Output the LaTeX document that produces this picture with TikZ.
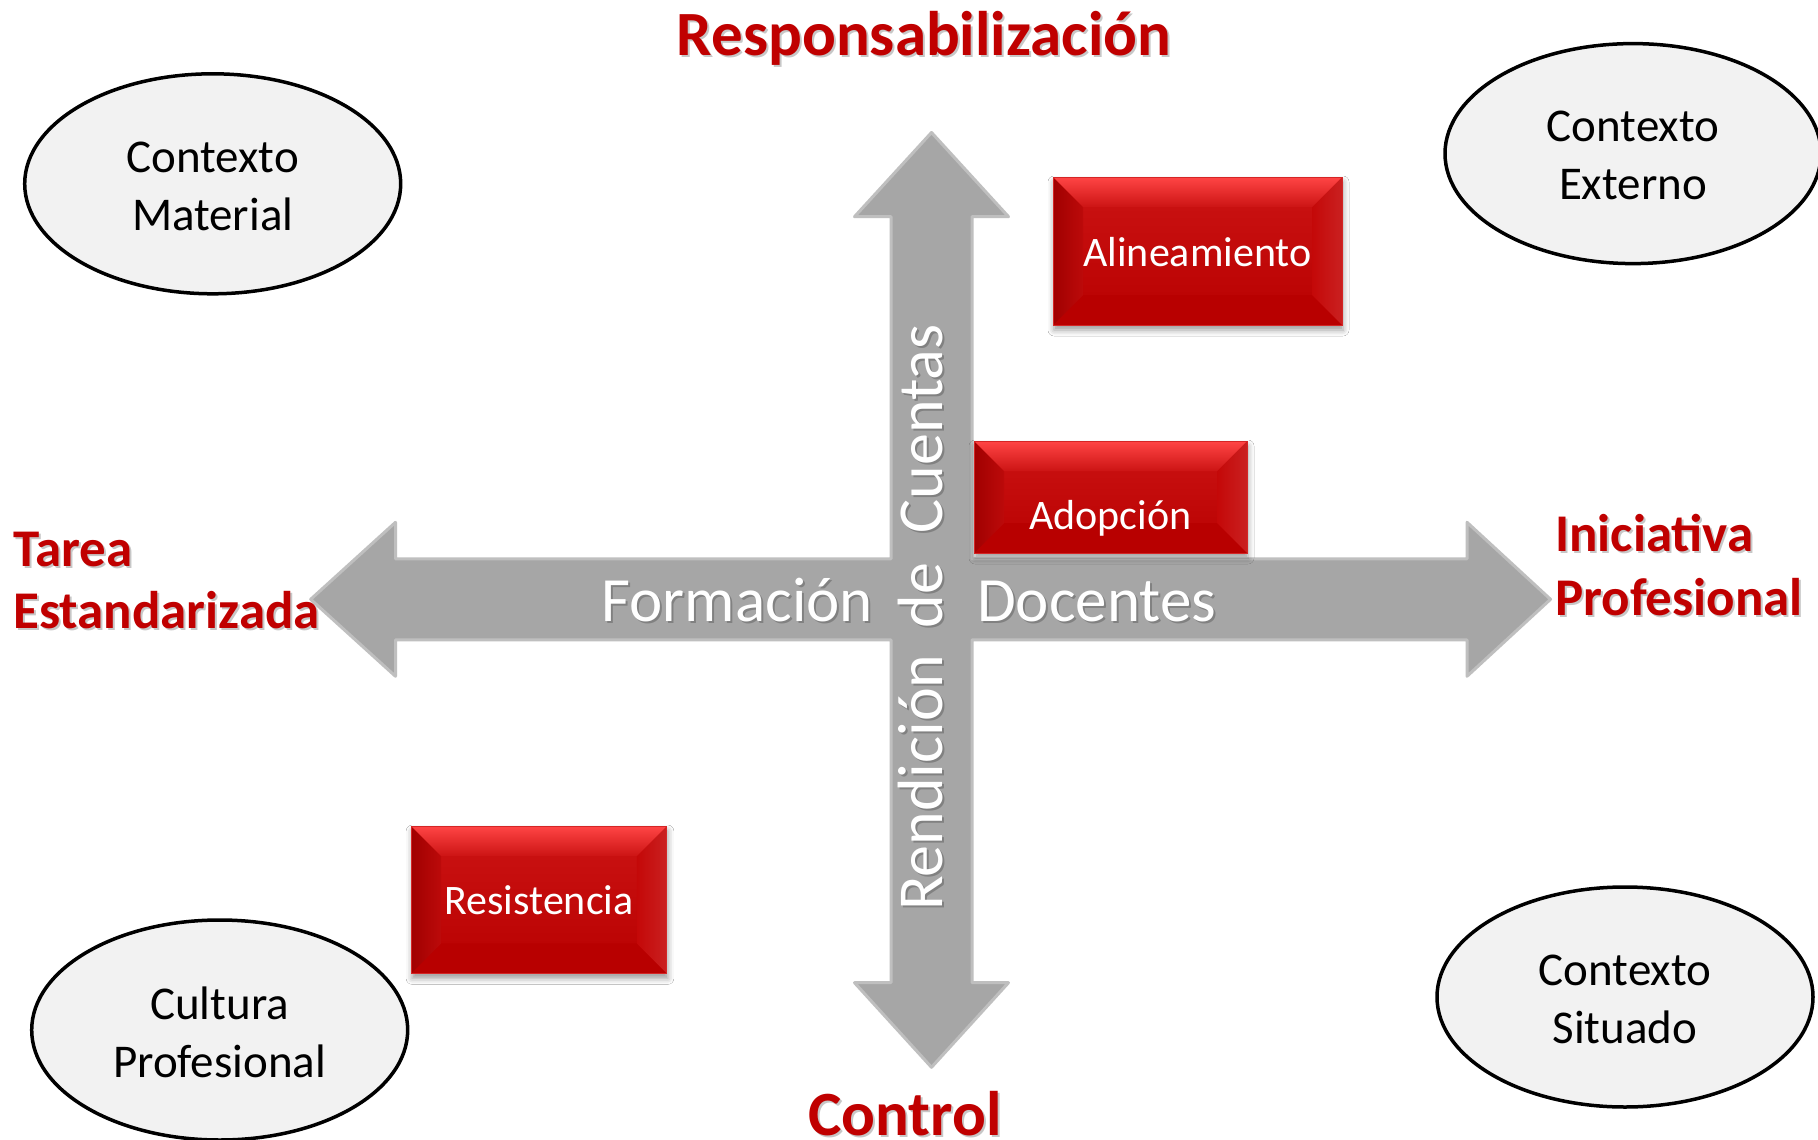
\documentclass[tikz,border=0pt]{standalone}
\usepackage{fontspec}
\setmainfont{Carlito}
\usetikzlibrary{calc,shapes.geometric,shadows.blur}
\definecolor{titlered}{HTML}{C00000}
\definecolor{boxred}{HTML}{BC0A0A}
\definecolor{boxtop}{HTML}{FF4545}
\definecolor{boxtopin}{HTML}{CC1414}
\definecolor{boxdark}{HTML}{A00000}
\definecolor{boxright}{HTML}{C40808}
\definecolor{boxbottom}{HTML}{B80000}
\definecolor{boxedge}{HTML}{D42626}
\definecolor{arrowgray}{HTML}{A6A6A6}
\definecolor{arrowedge}{HTML}{BFBFBF}
\definecolor{ellfill}{HTML}{F2F2F2}
\tikzset{
  ctx/.style={ellipse, draw=black, line width=3.5pt, fill=ellfill,
    minimum width=376pt, minimum height=220pt, inner sep=0pt,
    align=center, font=\fontsize{47}{58}\selectfont},
  ctxtext/.style={inner sep=0pt, align=center, font=\fontsize{47}{58}\selectfont},
  redlabel/.style={text=titlered, inner sep=0pt, font=\bfseries\fontsize{53}{62}\selectfont},
  redbig/.style={text=titlered, inner sep=0pt, font=\bfseries\fontsize{63}{70}\selectfont},
  txtshadow/.style={text=black, text opacity=0.22},
  boxtext/.style={text=white, inner sep=0pt, font=\fontsize{42}{48}\selectfont},
  axistext/.style={text=white, inner sep=0pt, font=\fontsize{63}{70}\selectfont},
  vaxistext/.style={text=white, inner sep=0pt, rotate=90, anchor=base, font=\fontsize{64}{70}\selectfont},
  bevelbox/.style={rectangle, inner sep=0pt, draw=boxedge, line width=1pt,
    fill=boxred,
    blur shadow={shadow xshift=1pt, shadow yshift=-5pt, shadow blur radius=6pt, shadow opacity=40},
    path picture={
      \path (path picture bounding box.north west) coordinate (bNW)
            (path picture bounding box.north east) coordinate (bNE)
            (path picture bounding box.south west) coordinate (bSW)
            (path picture bounding box.south east) coordinate (bSE);
      \shade[top color=boxtopin, bottom color=boxbottom]
        (bNW) rectangle (bSE);
      \fill[boxbottom] (bSW) -- ($(bSW)+(30,-30)$) -- ($(bSE)+(-30,-30)$) -- (bSE) -- cycle;
      \shade[left color=boxright, right color=boxright!90!white]
        (bNE) -- ($(bNE)+(-30,30)$) -- ($(bSE)+(-30,-30)$) -- (bSE) -- cycle;
      \shade[left color=boxdark, right color=boxred]
        (bNW) -- ($(bNW)+(30,30)$) -- ($(bSW)+(30,-30)$) -- (bSW) -- cycle;
      \shade[top color=boxtop, bottom color=boxtopin]
        (bNW) -- (bNE) -- ($(bNE)+(-30,30)$) -- ($(bNW)+(30,30)$) -- cycle;
    }},
  crossarrow/.style={fill=arrowgray, draw=arrowedge, line width=3pt, line join=round}
}
\begin{document}
\begin{tikzpicture}[x=1pt,y=-1pt]
\fill[white] (0,0) rectangle (1818,1140);
\useasboundingbox (0,0) rectangle (1818,1140);

% cross-shaped double arrows
\def\cx{931.5}\def\cy{599.3}\def\w{40.5}\def\hh{77}
\draw[crossarrow]
  (\cx,132.5) -- (\cx+\hh,216.7) -- (\cx+\w,216.7) -- (\cx+\w,\cy-\w)
  -- (1467,\cy-\w) -- (1467,\cy-\hh) -- (1550.5,\cy) -- (1467,\cy+\hh)
  -- (1467,\cy+\w) -- (\cx+\w,\cy+\w) -- (\cx+\w,982.7) -- (\cx+\hh,982.7)
  -- (\cx,1067.3) -- (\cx-\hh,982.7) -- (\cx-\w,982.7) -- (\cx-\w,\cy+\w)
  -- (395.5,\cy+\w) -- (395.5,\cy+\hh) -- (310.7,\cy) -- (395.5,\cy-\hh)
  -- (395.5,\cy-\w) -- (\cx-\w,\cy-\w) -- (\cx-\w,216.7) -- (\cx-\hh,216.7) -- cycle;

% axis texts
\node[axistext, txtshadow, anchor=base east] (formS) at (875,623) {Formación};
\node[axistext, anchor=base east] (form) at (873,621) {Formación};
\node[axistext, txtshadow, anchor=base west] (docS) at (979,623) {Docentes};
\node[axistext, anchor=base west] (doc) at (977,621) {Docentes};
\node[vaxistext, txtshadow] (rendS) at (944,784.6) {Rendición};
\node[vaxistext] (rend) at (942,782.6) {Rendición};
\node[vaxistext, txtshadow] (deS) at (944,597.3) {de};
\node[vaxistext] (de) at (942,595.3) {de};
\node[vaxistext, txtshadow] (cuenS) at (944,431) {Cuentas};
\node[vaxistext] (cuen) at (942,429) {Cuentas};

% ellipses
\node[ctx] (cmat) at (212.7,183.8) {};
\node[ctxtext] (cmatT) at (212.7,186) {Contexto\\Material};
\node[ctx] (cext) at (1633,153.6) {};
\node[ctxtext] (cextT) at (1633,155.6) {Contexto\\Externo};
\node[ctx] (cprof) at (219.7,1030) {};
\node[ctxtext] (cprofT) at (219.7,1032) {Cultura\\Profesional};
\node[ctx] (csit) at (1625,997) {};
\node[ctxtext] (csitT) at (1625,999) {Contexto\\Situado};

% red boxes
\node[bevelbox, minimum width=289pt, minimum height=148pt] (alin) at (1197.5,251) {};
\node[boxtext, anchor=base] (alinT) at (1197.5,266) {Alineamiento};
\node[bevelbox, minimum width=273pt, minimum height=112pt] (adop) at (1110.5,497) {};
\node[boxtext, anchor=base] (adopT) at (1110.5,529) {Adopción};
\node[bevelbox, minimum width=255.7pt, minimum height=147.3pt] (resi) at (539,899.7) {};
\node[boxtext, anchor=base] (resiT) at (539,914.5) {Resistencia};

% red labels
\node[redbig, txtshadow, anchor=base] (titleS) at (926,58) {Responsabilización};
\node[redbig, anchor=base] (title) at (924,56) {Responsabilización};
\node[redbig, txtshadow, anchor=base] (ctrlS) at (907,1137) {Control};
\node[redbig, anchor=base] (ctrl) at (905,1135) {Control};

\node[redlabel, txtshadow, anchor=base west] (tareaS) at (15,568.7) {Tarea};
\node[redlabel, anchor=base west] (tarea) at (13,566.7) {Tarea};
\node[redlabel, txtshadow, anchor=base west] (estS) at (15,630.3) {Estandarizada};
\node[redlabel, anchor=base west] (est) at (13,628.3) {Estandarizada};

\node[redlabel, txtshadow, anchor=base west] (iniS) at (1557,553.7) {Iniciativa};
\node[redlabel, anchor=base west] (ini) at (1555,551.7) {Iniciativa};
\node[redlabel, txtshadow, anchor=base west] (profS) at (1557,617) {Profesional};
\node[redlabel, anchor=base west] (prof) at (1555,615) {Profesional};
\end{tikzpicture}
\end{document}
